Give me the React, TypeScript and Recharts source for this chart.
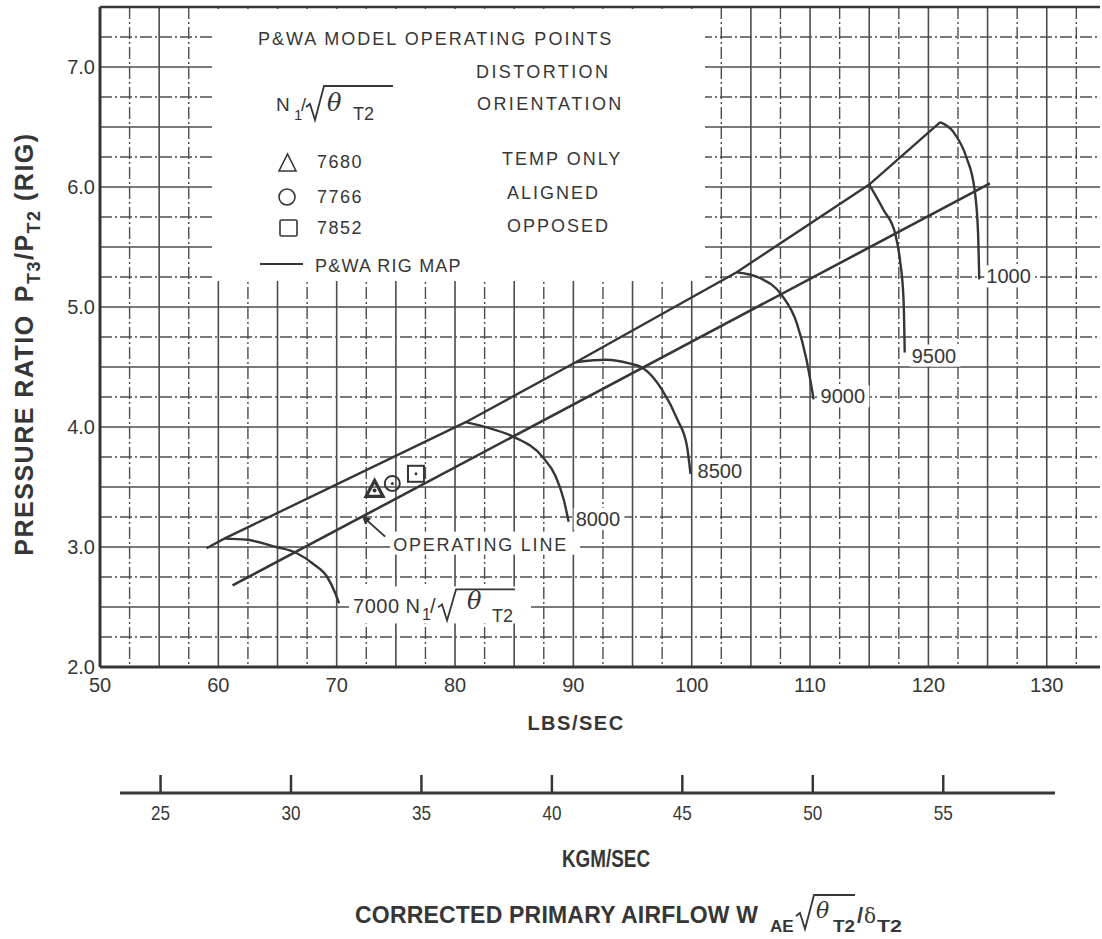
import {
  ComposedChart, Line, Scatter, XAxis, YAxis, CartesianGrid,
  ReferenceDot, Customized,
} from 'recharts';

const INK = '#363636';
const GRID = '#4d4d4d';
const FONT = "'Liberation Sans', Arial, Helvetica, sans-serif";
const LB_PER_KG = 2.20462;

// axes
const X_DOMAIN = [50, 134.5];
const Y_DOMAIN = [2, 7.5];
const xTicks = [50, 60, 70, 80, 90, 100, 110, 120, 130];
const yTicks = [2, 3, 4, 5, 6, 7];
const kgTicks = [25, 30, 35, 40, 45, 50, 55];

// graph paper
const gridXSolid = [55, 60, 65, 70, 75, 80, 85, 90, 95, 100, 105, 110, 115, 120, 125, 130];
const gridXDash = [52.5, 57.5, 62.5, 67.5, 72.5, 77.5, 82.5, 87.5, 92.5, 97.5, 102.5, 107.5, 112.5, 117.5, 122.5, 127.5, 132.5];
const gridYSolid = [2.5, 3, 3.5, 4, 4.5, 5, 5.5, 6, 6.5, 7];
const gridYDash = [2.25, 2.75, 3.25, 3.75, 4.25, 4.75, 5.25, 5.75, 6.25, 6.75, 7.25];

// P&WA rig map - peak line through the top of each speed line
const peakX = [59.0, 60.5, 80.9, 90.2, 103.8, 115.0, 121.0];
const peakY = [2.99, 3.07, 4.04, 4.54, 5.29, 6.02, 6.54];

// operating line
const opX = [61.2, 125.2];
const opY = [2.68, 6.03];
const opArrowAt = 72.15;

// constant speed lines
const n7000X = [60.5, 62.4, 64.9, 66.6, 68.0, 69.2, 69.9, 70.2];
const n7000Y = [3.07, 3.06, 3.0, 2.95, 2.86, 2.75, 2.61, 2.53];
const n8000X = [80.9, 82.9, 84.9, 87.4, 88.5, 89.2, 89.6];
const n8000Y = [4.04, 3.99, 3.92, 3.75, 3.59, 3.39, 3.21];
const n8500X = [90.2, 92.8, 94.7, 95.9, 97.5, 98.8, 99.6, 99.9];
const n8500Y = [4.54, 4.56, 4.53, 4.49, 4.31, 4.06, 3.84, 3.61];
const n9000X = [103.8, 105.8, 107.6, 108.9, 109.7, 110.3];
const n9000Y = [5.29, 5.24, 5.1, 4.86, 4.56, 4.23];
const n9500X = [115.0, 116.2, 117.2, 117.6, 117.9, 118.0];
const n9500Y = [6.02, 5.81, 5.61, 5.39, 5.06, 4.62];
const n10000X = [121.0, 122.1, 123.2, 123.9, 124.2, 124.3];
const n10000Y = [6.54, 6.46, 6.25, 5.98, 5.61, 5.23];

// model operating points
const pointSpeeds = [7680, 7766, 7852];
const pointX = [73.2, 74.7, 76.7];
const pointY = [3.48, 3.53, 3.61];

const toPts = (xs: number[], ys: number[]) => xs.map((x, i) => ({ x, y: ys[i] }));
const last = (a: number[]) => a[a.length - 1];

const speedLines = [
  { label: '7000', xs: n7000X, ys: n7000Y },
  { label: '8000', xs: n8000X, ys: n8000Y },
  { label: '8500', xs: n8500X, ys: n8500Y },
  { label: '9000', xs: n9000X, ys: n9000Y },
  { label: '9500', xs: n9500X, ys: n9500Y },
  { label: '1000', xs: n10000X, ys: n10000Y },
];

function opYAt(x: number) {
  const t = (x - opX[0]) / (opX[1] - opX[0]);
  return opY[0] + t * (opY[1] - opY[0]);
}

function TriangleMark({ cx, cy }: any) {
  return (
    <g>
      <path d={`M${cx},${cy - 9} L${cx - 8.5},${cy + 7} L${cx + 8.5},${cy + 7} Z`} fill="none" stroke={INK} strokeWidth={3.2} />
      <circle cx={cx} cy={cy + 1} r={2} fill={INK} />
    </g>
  );
}

function CircleMark({ cx, cy }: any) {
  return (
    <g>
      <circle cx={cx} cy={cy} r={7.5} fill="none" stroke={INK} strokeWidth={2} />
      <circle cx={cx} cy={cy} r={1.5} fill={INK} />
    </g>
  );
}

function SquareMark({ cx, cy }: any) {
  return (
    <g>
      <rect x={cx - 8} y={cy - 8} width={16} height={16} fill="none" stroke={INK} strokeWidth={2} />
      <circle cx={cx} cy={cy} r={1.5} fill={INK} />
    </g>
  );
}

const markShapes = [TriangleMark, CircleMark, SquareMark];

// small radical sign with bar over the radicand
function Radical({ x, base, top, barEnd }: { x: number; base: number; top: number; barEnd: number }) {
  return (
    <path
      d={`M${x},${base - 13} L${x + 4},${base - 16} L${x + 9},${base} L${x + 18},${top} L${barEnd},${top}`}
      fill="none" stroke={INK} strokeWidth={1.8}
    />
  );
}

function SpeedTag({ cx, cy, text }: any) {
  const dy = text === '9500' ? 9 : 3;
  if (text === '7000') {
    return (
      <g fill={INK} fontFamily={FONT}>
        <rect x={cx + 10} y={cy - 17} width={182} height={37} fill="#fff" />
        <text x={cx + 14} y={cy + 10} fontSize={20} letterSpacing={0.5}>7000 N</text>
        <text x={cx + 83} y={cy + 17} fontSize={16}>1</text>
        <text x={cx + 91} y={cy + 10} fontSize={20}>/</text>
        <Radical x={cx + 99} base={cy + 17} top={cy - 14} barEnd={cx + 176} />
        <text x={cx + 128} y={cy + 6} fontSize={24} fontStyle="italic" fontFamily="'DejaVu Serif', serif">θ</text>
        <text x={cx + 153} y={cy + 19} fontSize={18}>T2</text>
      </g>
    );
  }
  return (
    <g>
      <rect x={cx + 5} y={cy + dy - 17} width={text.length * 11.2 + 6} height={22} fill="#fff" />
      <text x={cx + 7} y={cy + dy + 1} fontSize={20} fill={INK} fontFamily={FONT}>{text}</text>
    </g>
  );
}

function OpLineTag({ cx, cy }: any) {
  return (
    <g>
      <rect x={cx + 28} y={cy + 15} width={190} height={23} fill="#fff" />
      <line x1={cx + 23} y1={cy + 20} x2={cx + 4} y2={cy + 3} stroke={INK} strokeWidth={2} />
      <path d={`M${cx},${cy} L${cx + 9},${cy + 2} L${cx + 3},${cy + 8} Z`} fill={INK} />
      <text x={cx + 31} y={cy + 34} fontSize={18} letterSpacing={1.8} fill={INK} fontFamily={FONT}>
        OPERATING LINE
      </text>
    </g>
  );
}

// metric scale tick, hung below the lbs/sec axis
function KgTick({ cx, cy, value }: any) {
  return (
    <g>
      <line x1={cx} x2={cx} y1={cy + 108} y2={cy + 126} stroke={INK} strokeWidth={2.5} />
      <text x={cx} y={cy + 153} textAnchor="middle" fontSize={21} textLength={19} lengthAdjust="spacingAndGlyphs"
        fill={INK} fontFamily={FONT}>
        {value}
      </text>
    </g>
  );
}

function Overlay() {
  return (
    <g fontFamily={FONT} fill={INK}>
      {/* legend panel cut out of the graph paper */}
      <rect x={212} y={9} width={493} height={272} fill="#fff" />
      <line x1={100} y1={7} x2={1100} y2={7} stroke={INK} strokeWidth={2.5} />

      <text x={258} y={45} fontSize={18} letterSpacing={2}>{'P&WA MODEL OPERATING POINTS'}</text>
      <text x={476} y={78} fontSize={18} letterSpacing={2.4}>DISTORTION</text>
      <text x={477} y={110} fontSize={18} letterSpacing={2.4}>ORIENTATION</text>

      <text x={276} y={111} fontSize={19}>N</text>
      <text x={294} y={120} fontSize={15}>1</text>
      <text x={301} y={111} fontSize={18}>/</text>
      <Radical x={306} base={120} top={86} barEnd={393} />
      <text x={327} y={111} fontSize={24} fontStyle="italic" fontFamily="'DejaVu Serif', serif">θ</text>
      <text x={353} y={120} fontSize={18}>T2</text>

      <path d="M287.5,154 L279,171 L296,171 Z" fill="none" stroke={INK} strokeWidth={1.6} />
      <text x={317} y={168} fontSize={18} letterSpacing={1.5}>7680</text>
      <text x={502} y={165} fontSize={18} letterSpacing={2}>TEMP ONLY</text>

      <circle cx={287} cy={197} r={8} fill="none" stroke={INK} strokeWidth={1.6} />
      <text x={317} y={203} fontSize={18} letterSpacing={1.5}>7766</text>
      <text x={507} y={199} fontSize={18} letterSpacing={2}>ALIGNED</text>

      <rect x={280} y={220} width={17} height={16} rx={1.5} fill="none" stroke={INK} strokeWidth={1.6} />
      <text x={317} y={234} fontSize={18} letterSpacing={1.5}>7852</text>
      <text x={507} y={232} fontSize={18} letterSpacing={2}>OPPOSED</text>

      <line x1={260} y1={264} x2={303} y2={264} stroke={INK} strokeWidth={2} />
      <text x={315} y={272} fontSize={18} letterSpacing={1.2}>{'P&WA RIG MAP'}</text>

      {/* y axis title */}
      <text transform="rotate(-90 33 344)" x={33} y={344} textAnchor="middle" fontSize={25} fontWeight="bold" letterSpacing={1.5}>
        PRESSURE RATIO<tspan dx={12}>P</tspan>
        <tspan dy={7} fontSize={18}>T3</tspan>
        <tspan dy={-7}>/P</tspan>
        <tspan dy={7} fontSize={18}>T2</tspan>
        <tspan dy={-7}> (RIG)</tspan>
      </text>

      <text x={576} y={730} textAnchor="middle" fontSize={20} fontWeight="bold" letterSpacing={1.5}>LBS/SEC</text>

      {/* metric scale */}
      <line x1={120} y1={793} x2={1055} y2={793} stroke={INK} strokeWidth={3} />
      <text x={562} y={867} fontSize={24} fontWeight="bold" textLength={88} lengthAdjust="spacingAndGlyphs">KGM/SEC</text>

      <g fontWeight="bold">
        <text x={355} y={923} fontSize={23} letterSpacing={0.2}>CORRECTED PRIMARY AIRFLOW W</text>
        <text x={770} y={932} fontSize={17}>AE</text>
        <Radical x={796} base={929} top={895} barEnd={855} />
        <text x={816} y={918} fontSize={22} fontStyle="italic" fontFamily="'DejaVu Serif', serif" fontWeight="normal">θ</text>
        <text x={833} y={932} fontSize={17} textLength={22} lengthAdjust="spacingAndGlyphs">T2</text>
        <text x={857} y={923} fontSize={22}>/</text>
        <text x={864} y={923} fontSize={20} fontFamily="'DejaVu Serif', serif" fontWeight="normal">δ</text>
        <text x={877} y={932} fontSize={17} textLength={25} lengthAdjust="spacingAndGlyphs">T2</text>
      </g>
    </g>
  );
}

export default function App() {
  return (
    <div style={{ position: 'absolute', left: 0, top: 0, width: 1102, height: 939, background: '#fff' }}>
      <ComposedChart width={1102} height={939} margin={{ top: 7, right: 2, bottom: 0, left: 0 }}>
        <CartesianGrid
          horizontalValues={gridYSolid}
          verticalValues={gridXSolid}
          stroke={GRID}
          strokeWidth={1.6}
        />
        <CartesianGrid
          horizontalValues={gridYDash}
          verticalValues={gridXDash}
          stroke={GRID}
          strokeWidth={1.4}
          strokeDasharray="12 3 2 3"
        />
        <XAxis
          dataKey="x"
          type="number"
          domain={X_DOMAIN}
          ticks={xTicks}
          interval={0}
          allowDataOverflow
          height={272}
          axisLine={{ stroke: INK, strokeWidth: 3 }}
          tickLine={false}
          tickSize={0}
          tickMargin={11}
          tick={{ fontSize: 20, fill: INK, fontFamily: FONT }}
        />
        <YAxis
          dataKey="y"
          type="number"
          domain={Y_DOMAIN}
          ticks={yTicks}
          interval={0}
          allowDataOverflow
          width={100}
          axisLine={{ stroke: INK, strokeWidth: 3 }}
          tickLine={false}
          tickSize={0}
          tickMargin={5}
          tickFormatter={(v: number) => v.toFixed(1)}
          tick={{ fontSize: 20, fill: INK, fontFamily: FONT }}
        />
        <Customized component={Overlay} />

        <Line data={toPts(peakX, peakY)} dataKey="y" type="linear" stroke={INK} strokeWidth={2.4}
          dot={false} activeDot={false} isAnimationActive={false} />
        <Line data={toPts(opX, opY)} dataKey="y" type="linear" stroke={INK} strokeWidth={2.6}
          dot={false} activeDot={false} isAnimationActive={false} />
        {speedLines.map((s) => (
          <Line key={s.label} data={toPts(s.xs, s.ys)} dataKey="y" type="monotone" stroke={INK}
            strokeWidth={2.4} dot={false} activeDot={false} isAnimationActive={false} />
        ))}
        {speedLines.map((s) => (
          <ReferenceDot key={'tag' + s.label} x={last(s.xs)} y={last(s.ys)} r={0}
            shape={(p: any) => <SpeedTag {...p} text={s.label} />} />
        ))}
        <ReferenceDot x={opArrowAt} y={opYAt(opArrowAt)} r={0} shape={(p: any) => <OpLineTag {...p} />} />

        {kgTicks.map((k) => (
          <ReferenceDot key={'kg' + k} x={k * LB_PER_KG} y={Y_DOMAIN[0]} r={0} ifOverflow="visible"
            shape={(p: any) => <KgTick {...p} value={k} />} />
        ))}

        {pointSpeeds.map((n, i) => (
          <Scatter key={n} name={String(n)} data={[{ x: pointX[i], y: pointY[i] }]}
            shape={markShapes[i]} isAnimationActive={false} />
        ))}
      </ComposedChart>
    </div>
  );
}
